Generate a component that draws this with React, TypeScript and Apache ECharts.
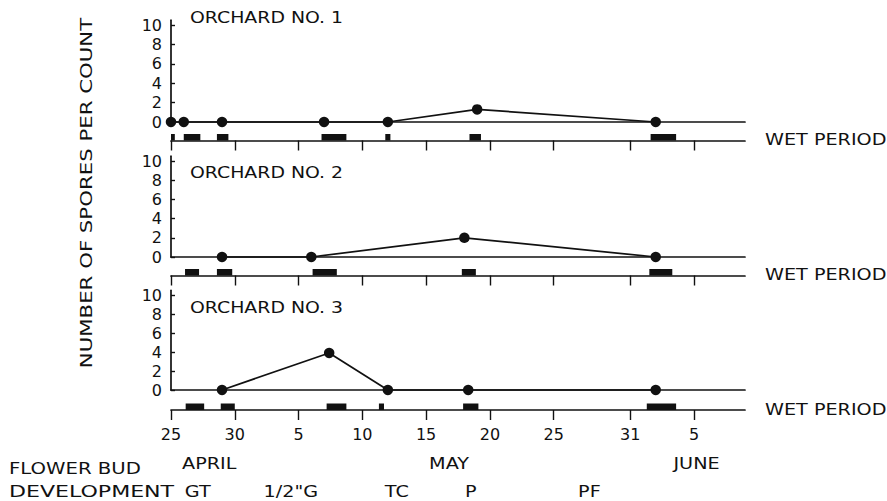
import React, { useEffect, useRef } from 'react';
import * as echarts from 'echarts';

// Days counted from April 25
const sampleDays1 = [0, 1, 4, 12, 17, 24, 38];
const counts1 = [0, 0, 0, 0, 0, 1.3, 0];
const sampleDays2 = [4, 11, 23, 38];
const counts2 = [0, 0, 2, 0];
const sampleDays3 = [4, 12.4, 17, 23.3, 38];
const counts3 = [0, 3.9, 0, 0, 0];

const wet1 = [[0, 0.3], [1, 2.3], [3.6, 4.5], [11.8, 13.75], [16.8, 17.2], [23.4, 24.3], [37.6, 39.6]];
const wet2 = [[1.1, 2.2], [3.6, 4.8], [11.1, 13], [22.8, 23.9], [37.5, 39.3]];
const wet3 = [[1.15, 2.6], [3.9, 5], [12.2, 13.75], [16.3, 16.7], [22.9, 24.1], [37.3, 39.6]];

const tickDays = [0, 5, 10, 15, 20, 25, 30, 36, 41];
const tickLabels = ['25', '30', '5', '10', '15', '20', '25', '31', '5'];
const months = ['APRIL', 'MAY', 'JUNE'];
const monthDays = [3, 21.8, 41.2];
const stages = ['GT', '1/2"G', 'TC', 'P', 'PF'];
const stageDays = [2.1, 9.4, 17.7, 23.5, 32.8];
const orchardTitles = ['ORCHARD NO. 1', 'ORCHARD NO. 2', 'ORCHARD NO. 3'];
const yTicks = [0, 2, 4, 6, 8, 10];

const FONT = 'DejaVu Sans';
const BLACK = '#111';

export default function App() {
  const ref = useRef<HTMLDivElement>(null);
  useEffect(() => {
    if (!ref.current) return;
    const chart = echarts.init(ref.current, null, { renderer: 'svg' });
    const countTops = [20.2, 156.2, 290.3];
    const countHeights = [101.8, 100.8, 99.7];
    const wetTops = [134, 269, 403.5];
    const gridLeft = 171;
    const gridWidth = 574;

    const grids: any[] = [];
    const xAxes: any[] = [];
    const yAxes: any[] = [];
    for (let i = 0; i < 3; i++) {
      grids.push({ left: gridLeft, top: countTops[i], width: gridWidth, height: countHeights[i] });
    }
    for (let i = 0; i < 3; i++) {
      grids.push({ left: gridLeft, top: wetTops[i], width: gridWidth, height: 6.5 });
    }
    grids.push({ left: gridLeft, top: 464, width: gridWidth, height: 28 });

    for (let i = 0; i < 3; i++) {
      xAxes.push({
        type: 'value', gridIndex: i, min: 0, max: 45,
        axisLine: { show: true, onZero: false, lineStyle: { color: BLACK, width: 1.7 } },
        axisTick: { show: false }, axisLabel: { show: false }, splitLine: { show: false },
      });
      yAxes.push({
        type: 'value', gridIndex: i, min: 0, max: 10.5,
        axisLine: { show: true, lineStyle: { color: BLACK, width: 1.7 } },
        axisTick: { show: true, inside: true, length: 4, customValues: yTicks, lineStyle: { color: BLACK, width: 1.4 } },
        axisLabel: { show: true, color: BLACK, fontSize: 16, fontFamily: FONT, margin: 9, customValues: yTicks },
        splitLine: { show: false },
      });
    }
    for (let i = 0; i < 3; i++) {
      xAxes.push({
        type: 'value', gridIndex: 3 + i, min: 0, max: 45,
        axisLine: { show: true, onZero: false, lineStyle: { color: BLACK, width: 1.7 } },
        axisTick: { show: true, inside: false, length: 10, customValues: tickDays, lineStyle: { color: BLACK, width: 1.4 } },
        axisLabel: {
          show: i === 2, color: BLACK, fontSize: 16, fontFamily: FONT, margin: 16,
          customValues: tickDays,
          formatter: (v: number) => { const k = tickDays.indexOf(v); return k >= 0 ? tickLabels[k] : ''; },
        },
        splitLine: { show: false },
      });
      yAxes.push({ type: 'value', gridIndex: 3 + i, min: 0, max: 1, show: false });
    }
    xAxes.push({ type: 'value', gridIndex: 6, min: 0, max: 45, show: false });
    yAxes.push({ type: 'value', gridIndex: 6, min: 0, max: 1, show: false });

    const lineData = [
      [sampleDays1, counts1],
      [sampleDays2, counts2],
      [sampleDays3, counts3],
    ];
    const wets = [wet1, wet2, wet3];
    const series: any[] = [];
    lineData.forEach(([d, c], i) => {
      series.push({
        type: 'line', xAxisIndex: i, yAxisIndex: i,
        data: d.map((x, k) => [x, c[k]]),
        symbol: 'circle', symbolSize: 10.5,
        lineStyle: { color: BLACK, width: 1.7 },
        itemStyle: { color: BLACK },
        clip: false,
      });
    });
    wets.forEach((w, i) => {
      series.push({
        type: 'custom', xAxisIndex: 3 + i, yAxisIndex: 3 + i,
        data: w,
        encode: { x: [0, 1] },
        clip: false,
        renderItem: (params: any, api: any) => {
          const s = api.coord([api.value(0), 0]);
          const e = api.coord([api.value(1), 1]);
          return {
            type: 'rect',
            shape: { x: s[0], y: e[1], width: e[0] - s[0], height: s[1] - e[1] },
            style: { fill: BLACK },
          };
        },
      });
    });

    chart.setOption({
      animation: false,
      backgroundColor: '#fff',
      grid: grids,
      xAxis: xAxes,
      yAxis: yAxes,
      series,
    });

    const titleY = [18, 173, 308];
    const wetY = [140, 275, 410];
    const graphic: any[] = [];
    const txt = (text: string, x: number, y: number, size: number, scaleX: number, align = 'left', rotation = 0) => ({
      type: 'text', x, y, scaleX, rotation,
      style: { text, fill: BLACK, fontSize: size, fontFamily: FONT, verticalAlign: 'middle', align },
    });
    orchardTitles.forEach((t, i) => graphic.push(txt(t, 190, titleY[i], 16, 1.18)));
    wetY.forEach((y) => graphic.push(txt('WET PERIOD', 765, y, 16, 1.2)));
    graphic.push(txt('NUMBER OF SPORES PER COUNT', 86, 193, 16, 1.33, 'center', Math.PI / 2));
    graphic.push(txt('FLOWER BUD', 9, 468, 16, 1.23));
    graphic.push(txt('DEVELOPMENT', 9, 492, 16, 1.38));
    const monthY = chart.convertToPixel({ yAxisIndex: 6 } as any, 1) as number;
    const stageY = chart.convertToPixel({ yAxisIndex: 6 } as any, 0) as number;
    months.forEach((m, k) => {
      const x = chart.convertToPixel({ xAxisIndex: 6 } as any, monthDays[k]) as number;
      graphic.push(txt(m, x, monthY, 16, 1.2, 'center'));
    });
    stages.forEach((s, k) => {
      const x = chart.convertToPixel({ xAxisIndex: 6 } as any, stageDays[k]) as number;
      graphic.push(txt(s, x, stageY, 16, 1.2, 'center'));
    });
    chart.setOption({ graphic });

    return () => chart.dispose();
  }, []);
  return <div ref={ref} style={{ position: 'fixed', left: 0, top: 0, width: 887, height: 501 }} />;
}
